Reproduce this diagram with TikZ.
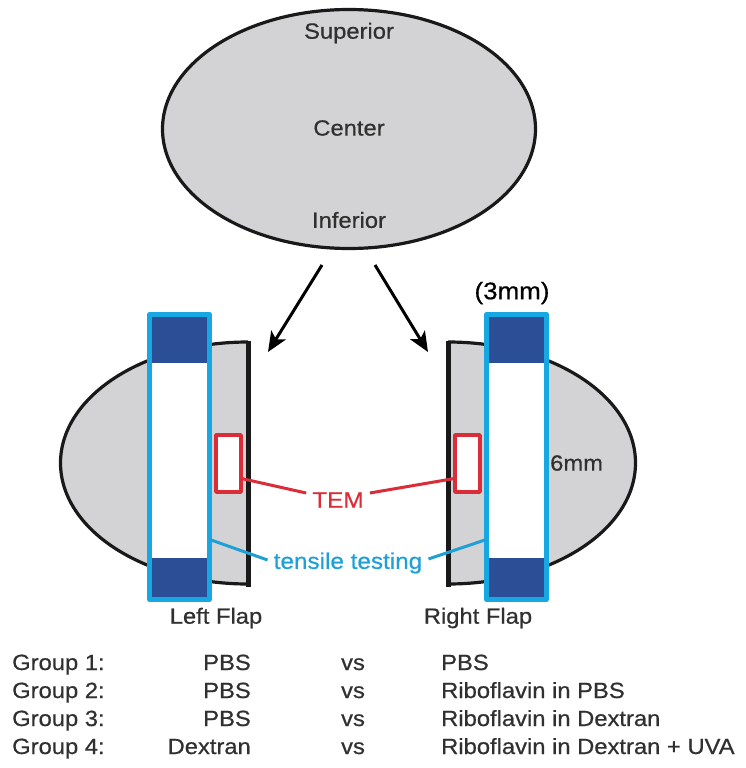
\documentclass[tikz,border=0pt]{standalone}
\usepackage{fontspec}
\setmainfont{Liberation Sans}[FakeStretch=1.08,FakeBold=0.6]
\usetikzlibrary{shapes.geometric,arrows.meta,calc}
\definecolor{flapgray}{RGB}{211,211,213}
\definecolor{stripblue}{RGB}{22,168,226}
\definecolor{clampblue}{RGB}{43,78,150}
\definecolor{temred}{RGB}{218,45,55}
\definecolor{tensblue}{RGB}{30,160,215}
\definecolor{inkgray}{RGB}{48,48,48}
\begin{document}
\begin{tikzpicture}[x=1pt,y=-1pt,>={Stealth[length=20pt,width=17pt,inset=5pt]},line join=round,
		lbl/.style={font=\fontsize{22}{24}\selectfont,text=inkgray,inner sep=0pt},
		tag/.style={font=\fontsize{22.5}{24}\selectfont,inner sep=6pt},
		tissue/.style={fill=flapgray,draw=black!90,line width=3.2pt},
		strip/.style={draw=stripblue,fill=white,line width=5pt,minimum width=60pt,minimum height=285pt,inner sep=0pt,outer sep=0pt},
		temwin/.style={draw=temred,fill=white,line width=3.6pt,minimum width=25pt,minimum height=57pt,inner sep=0pt,outer sep=0pt}]
		\useasboundingbox (0,0) rectangle (745,768);
		\node[ellipse,tissue,minimum width=373pt,minimum height=239pt,inner sep=0pt] (cornea) at (349,129) {};
		\node[lbl] (sup) at (349,33) {Superior};
		\node[lbl] (ctr) at (349,128) {Center};
		\node[lbl] (inf) at (349,220) {Inferior};
		\coordinate (cutL) at (322,265);
		\coordinate (cutR) at (375,265);
		\coordinate (tipL) at (268,352);
		\coordinate (tipR) at (428,352);
		\draw[->,line width=3pt] (cutL)--(tipL);
		\draw[->,line width=3pt] (cutR)--(tipR);
		\begin{scope}
			\clip (0,300) rectangle (248,620);
			\draw[tissue] (248,463) ellipse [x radius=187.5,y radius=121];
		\end{scope}
		\begin{scope}
			\clip (448,300) rectangle (745,620);
			\draw[tissue] (448,463) ellipse [x radius=187.5,y radius=121];
		\end{scope}
		\draw[black!90,line width=5pt] (248,341)--(248,587);
		\draw[black!90,line width=5pt] (448,341)--(448,587);
		\node[strip] (stripL) at (179.5,457) {};
		\node[strip] (stripR) at (516.5,457) {};
		\fill[clampblue] (152,317) rectangle (207,363);
		\fill[clampblue] (152,558) rectangle (207,597);
		\fill[clampblue] (489,317) rectangle (544,363);
		\fill[clampblue] (489,558) rectangle (544,597);
		\node[temwin] (temL) at (228.5,463.5) {};
		\node[temwin] (temR) at (467.5,463.5) {};
		\node[tag,text=temred] (tem) at (338,500) {TEM};
		\node[tag,text=tensblue] (tens) at (348,563) {tensile testing};
		\draw[temred,line width=3pt] (temL.-50)--($(tem.west)+(0,-7)$);
		\draw[temred,line width=3pt] (temR.-130)--($(tem.east)+(0,-7)$);
		\draw[tensblue,line width=3pt] (stripL.-70)--($(tens.west)+(0,-3)$);
		\draw[tensblue,line width=3pt] (stripR.-110)--($(tens.east)+(0,-4)$);
		\node[lbl,text=black,font=\fontsize{24}{26}\selectfont] (wid) at (512,293) {(3mm)};
		\node[lbl,anchor=west] (len) at (550,463) {6mm};
		\node[lbl] (flapL) at (216,618) {Left Flap};
		\node[lbl] (flapR) at (478,618) {Right Flap};
		\node[lbl,anchor=base west] (g1) at (12,670) {Group 1:};
		\node[lbl,anchor=base east] (g1l) at (251,670) {PBS};
		\node[lbl,anchor=base] (g1v) at (353,670) {vs};
		\node[lbl,anchor=base west] (g1r) at (441,670) {PBS};
		\node[lbl,anchor=base west] (g2) at (12,698) {Group 2:};
		\node[lbl,anchor=base east] (g2l) at (251,698) {PBS};
		\node[lbl,anchor=base] (g2v) at (353,698) {vs};
		\node[lbl,anchor=base west] (g2r) at (441,698) {Riboflavin in PBS};
		\node[lbl,anchor=base west] (g3) at (12,726) {Group 3:};
		\node[lbl,anchor=base east] (g3l) at (251,726) {PBS};
		\node[lbl,anchor=base] (g3v) at (353,726) {vs};
		\node[lbl,anchor=base west] (g3r) at (441,726) {Riboflavin in Dextran};
		\node[lbl,anchor=base west] (g4) at (12,754) {Group 4:};
		\node[lbl,anchor=base east] (g4l) at (251,754) {Dextran};
		\node[lbl,anchor=base] (g4v) at (353,754) {vs};
		\node[lbl,anchor=base west] (g4r) at (441,754) {Riboflavin in Dextran + UVA};
\end{tikzpicture}
\end{document}
